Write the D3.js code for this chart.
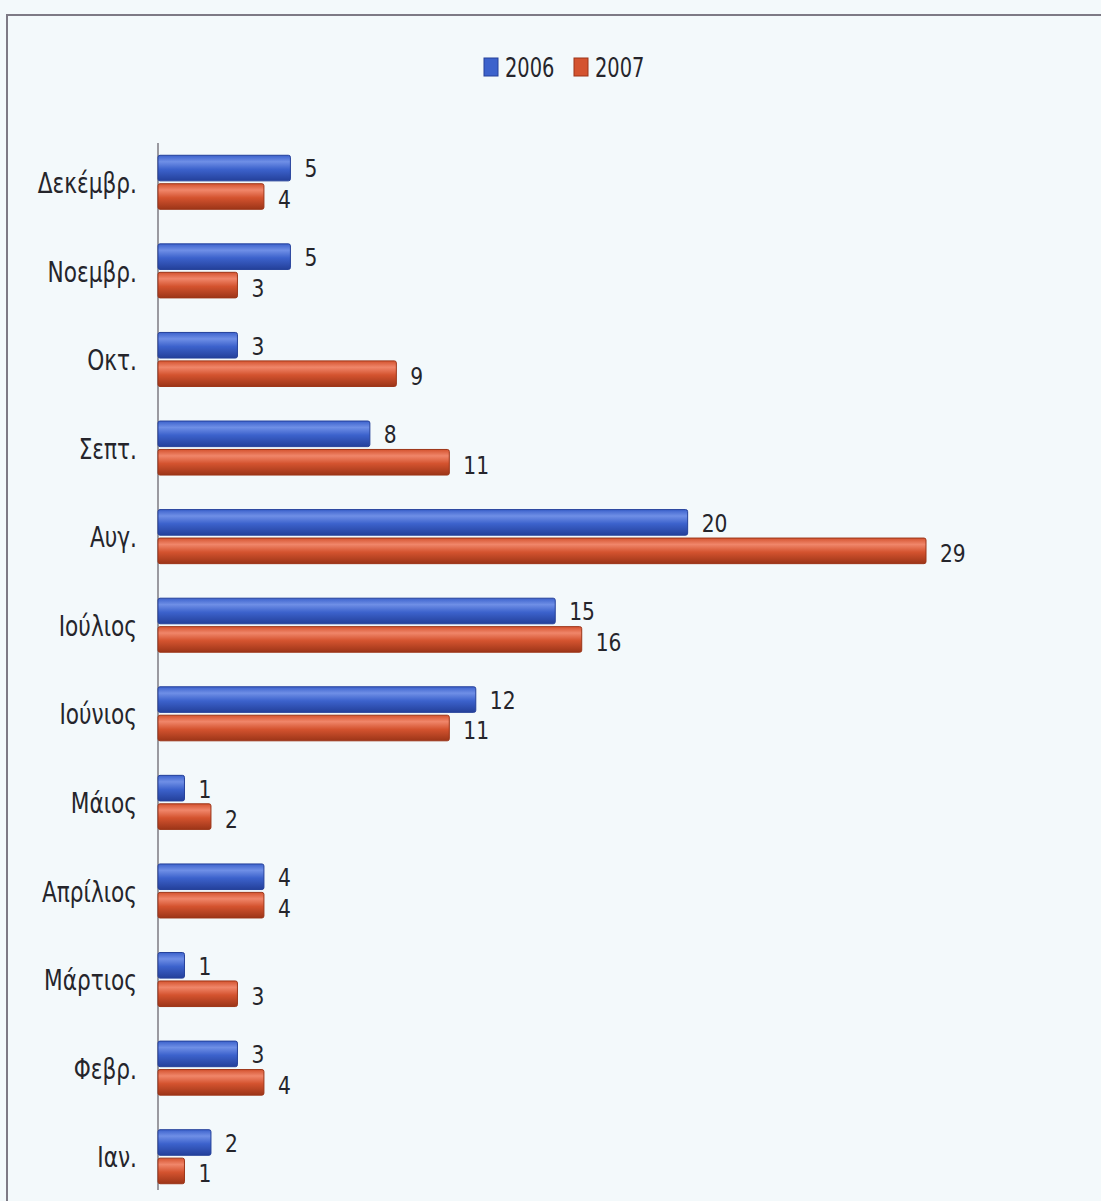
<!DOCTYPE html>
<html>
<head>
<meta charset="utf-8">
<script src="https://cdn.jsdelivr.net/npm/d3@7"></script>
<style>
  body { margin: 0; background: #f3f9fb; }
  text { font-family: "DejaVu Sans Condensed", "Liberation Sans Narrow", sans-serif; fill: #25252b; }
</style>
</head>
<body>
<script>
// months, Jan..Dec (drawn bottom to top)
var months = ["Ιαν.", "Φεβρ.", "Μάρτιος", "Απρίλιος", "Μάιος", "Ιούνιος",
              "Ιούλιος", "Αυγ.", "Σεπτ.", "Οκτ.", "Νοεμβρ.", "Δεκέμβρ."];
var years = ["2006", "2007"];
var values_2006 = [2, 3, 1, 4, 1, 12, 15, 20, 8, 3, 5, 5];
var values_2007 = [1, 4, 3, 4, 2, 11, 16, 29, 11, 9, 3, 4];

var colors = {"2006": ["#6f8fe6", "#3c62cc", "#24409a"],
              "2007": ["#f0866a", "#d4532f", "#9c3518"]};

var width = 1101, height = 1201;

var svg = d3.select("body")
        .append("svg")
        .attr("width", width)
        .attr("height", height);

// frame
svg.append("rect")
        .attr("x", 7).attr("y", 15)
        .attr("width", width).attr("height", height)
        .style("fill", "none")
        .style("stroke", "#7d7a85")
        .style("stroke-width", 2);

// gradients for glossy bars
var defs = svg.append("defs");
years.forEach(function(yr){
    var g = defs.append("linearGradient")
            .attr("id", "grad" + yr)
            .attr("x1", 0).attr("y1", 0).attr("x2", 0).attr("y2", 1);
    g.append("stop").attr("offset", "0%").attr("stop-color", colors[yr][1]);
    g.append("stop").attr("offset", "25%").attr("stop-color", colors[yr][0]);
    g.append("stop").attr("offset", "55%").attr("stop-color", colors[yr][1]);
    g.append("stop").attr("offset", "100%").attr("stop-color", colors[yr][2]);
});

// narrow the lettering like the original font
function place(x, y, squeeze){
    return "translate(" + x + "," + y + ") scale(" + squeeze + ",1)";
}

var axis_x = 158;

var scale_x = d3.scaleLinear()
        .domain([0, 29])
        .range([axis_x, 926]);

var scale_y = d3.scaleBand()
        .domain(months.slice().reverse())
        .range([138, 1201])
        .paddingInner(0.39)
        .paddingOuter(0.195);

var scale_sub = d3.scaleBand()
        .domain(years)
        .range([0, scale_y.bandwidth()])
        .paddingInner(0.1);

var rows = months.map(function(m, i){
    return {month: m, "2006": values_2006[i], "2007": values_2007[i]};
});

// axis line
svg.append("line")
        .attr("x1", axis_x).attr("x2", axis_x)
        .attr("y1", 143).attr("y2", 1190)
        .style("stroke", "#9a9aa0")
        .style("stroke-width", 2);

// category labels
svg.append("g")
        .selectAll("text")
        .data(months)
        .enter()
        .append("text")
        .attr("transform", function(d){ return place(137, scale_y(d) + scale_y.bandwidth()/2 + 1, 0.86); })
        .attr("text-anchor", "end")
        .attr("dominant-baseline", "central")
        .style("font-size", "28px")
        .text(function(d){ return d; });

// bars and value labels
var groups = svg.append("g")
        .selectAll("g")
        .data(rows)
        .enter()
        .append("g")
        .attr("transform", function(d){ return "translate(0," + scale_y(d.month) + ")"; });

var label_shift = {"2006": 1, "2007": 3};
years.forEach(function(yr){
    groups.append("rect")
            .attr("x", axis_x)
            .attr("y", scale_sub(yr))
            .attr("width", function(d){ return scale_x(d[yr]) - axis_x; })
            .attr("height", scale_sub.bandwidth())
            .attr("rx", 2)
            .style("fill", "url(#grad" + yr + ")")
            .style("stroke", colors[yr][2])
            .style("stroke-width", 1);

    groups.append("text")
            .attr("transform", function(d){
                return place(scale_x(d[yr]) + 14,
                             scale_sub(yr) + scale_sub.bandwidth()/2 + label_shift[yr], 0.9); })
            .attr("dominant-baseline", "central")
            .style("font-size", "25px")
            .text(function(d){ return d[yr]; });
});

// legend
var legend = svg.append("g").attr("transform", "translate(484,57)");
var legend_x = {"2006": 0, "2007": 90};
years.forEach(function(yr){
    legend.append("rect")
            .attr("x", legend_x[yr])
            .attr("y", 1)
            .attr("width", 14)
            .attr("height", 18)
            .style("fill", colors[yr][1])
            .style("stroke", colors[yr][2]);
    legend.append("text")
            .attr("transform", place(legend_x[yr] + 21, 11, 0.8))
            .attr("dominant-baseline", "central")
            .style("font-size", "27px")
            .text(yr);
});
</script>
</body>
</html>
